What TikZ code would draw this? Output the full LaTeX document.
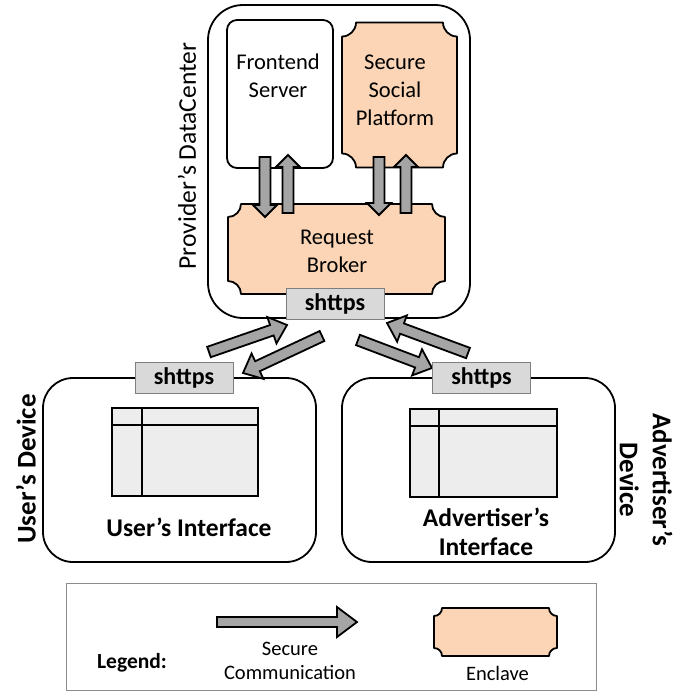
\documentclass[tikz,border=0pt]{standalone}
\usepackage{fontspec}
\setmainfont{Carlito}
\usetikzlibrary{calc}
\definecolor{peach}{HTML}{FBD5B5}
\definecolor{arrowgray}{HTML}{A5A5A5}
\definecolor{labelgray}{HTML}{D9D9D9}
\definecolor{tagline}{HTML}{7F7F7F}
\definecolor{wingray}{HTML}{EDEDED}
\definecolor{legendline}{HTML}{8C8C8C}
% enclave outline around a named (invisible) node: #1 node, #2 corner radius
\newcommand{\enclaveshape}[2]{%
  \path[encl] ($(#1.north west)+(#2,0)$) -- ($(#1.north east)+(-#2,0)$)
    .. controls +(0,0.55*#2) and +(-0.55*#2,0) .. ($(#1.north east)+(0,#2)$)
    -- ($(#1.south east)+(0,-#2)$)
    .. controls +(-0.55*#2,0) and +(0,-0.55*#2) .. ($(#1.south east)+(-#2,0)$)
    -- ($(#1.south west)+(#2,0)$)
    .. controls +(0,-0.55*#2) and +(0.55*#2,0) .. ($(#1.south west)+(0,-#2)$)
    -- ($(#1.north west)+(0,#2)$)
    .. controls +(0.55*#2,0) and +(0,0.55*#2) .. cycle;}
% block arrow: #1 name, #2 tail coord, #3 tip coord, #4 shaft half width, #5 head half width, #6 head length
\newcommand{\blockarrow}[6]{%
  \coordinate (#1hb) at ($(#3)!#6!(#2)$);
  \path[barrow] ($(#2)!#4!90:(#3)$) -- ($(#1hb)!#4!90:(#3)$) -- ($(#1hb)!#5!90:(#3)$)
    -- (#3) -- ($(#1hb)!#5!-90:(#3)$) -- ($(#1hb)!#4!-90:(#3)$) -- ($(#2)!#4!-90:(#3)$) -- cycle;}
\begin{document}
\begin{tikzpicture}[x=1pt,y=-1pt,
  every node/.style={inner sep=0pt, outer sep=0pt},
  roundbox/.style={draw, line width=1.8pt, fill=white, rounded corners=#1},
  ghost/.style={draw=none},
  encl/.style={draw, line width=1.8pt, fill=peach, line join=round},
  tag/.style={draw=tagline, line width=1pt, fill=labelgray, minimum width=98pt, minimum height=31pt, font=\fontsize{24}{28}\selectfont\bfseries},
  barrow/.style={draw, line width=1.8pt, fill=arrowgray, line join=miter},
  win/.style={draw, line width=2.4pt, fill=wingray},
  winline/.style={line width=2.4pt},
  maintext/.style={font=\fontsize{22.5}{28}\selectfont, align=center},
  boldtext/.style={font=\fontsize{25.5}{29}\selectfont\bfseries, align=center},
  sidetext/.style={font=\fontsize{27}{33}\selectfont\bfseries, align=center},
  legtext/.style={font=\fontsize{20.5}{24}\selectfont, align=center}
]
\useasboundingbox (0,0) rectangle (676,691);

% ---------- Provider's DataCenter ----------
\node[roundbox=35pt, minimum width=262pt, minimum height=313pt] (dc) at (339,161.5) {};
\node[font=\fontsize{25.5}{28}\selectfont, rotate=90] (dclabel) at (187,156) {Provider’s DataCenter};

\node[roundbox=10pt, minimum width=106pt, minimum height=148pt] (fe) at (280,94) {};
\node[maintext] (fetext) at (278,76) {Frontend\\Server};

\node[ghost, minimum width=115pt, minimum height=145pt] (ssp) at (399.5,95) {};
\enclaveshape{ssp}{14}
\node[maintext] (ssptext) at (395,90) {Secure\\Social\\Platform};

\node[ghost, minimum width=217pt, minimum height=90pt] (rb) at (336.5,249) {};
\enclaveshape{rb}{13}
\node[maintext] (rbtext) at (337,251) {Request\\Broker};

% vertical secure channels
\coordinate (fedownt) at (265,157); \coordinate (fedownh) at (265,217);
\coordinate (feupt) at (288,213);   \coordinate (feuph) at (288,155);
\coordinate (ssdownt) at (379,157); \coordinate (ssdownh) at (379,215);
\coordinate (ssupt) at (406,213);   \coordinate (ssuph) at (406,155);
\blockarrow{a1}{fedownt}{fedownh}{5.5pt}{12pt}{12pt}
\blockarrow{a2}{feupt}{feuph}{5.5pt}{12pt}{12pt}
\blockarrow{a3}{ssdownt}{ssdownh}{5.5pt}{12pt}{12pt}
\blockarrow{a4}{ssupt}{ssuph}{5.5pt}{12pt}{12pt}

% ---------- Devices ----------
\node[roundbox=30pt, minimum width=273pt, minimum height=184pt] (ud) at (179.5,470) {};
\node[sidetext, rotate=90] (udlabel) at (26,469) {User’s Device};
\node[win, minimum width=146pt, minimum height=88pt] (uwin) at (185,452) {};
\draw[winline] ($(uwin.north west)+(0,17)$) -- ($(uwin.north east)+(0,17)$);
\draw[winline] ($(uwin.north west)+(30,0)$) -- ($(uwin.south west)+(30,0)$);
\node[boldtext] (uitext) at (189,527) {User’s Interface};

\node[roundbox=30pt, minimum width=273pt, minimum height=184pt] (ad) at (478.5,470) {};
\node[sidetext, rotate=-90] (adlabel) at (646,480) {Advertiser’s\\Device};
\node[win, minimum width=147pt, minimum height=88pt] (awin) at (483.5,453) {};
\draw[winline] ($(awin.north west)+(0,17)$) -- ($(awin.north east)+(0,17)$);
\draw[winline] ($(awin.north west)+(29,0)$) -- ($(awin.south west)+(29,0)$);
\node[boldtext] (aitext) at (486,531.5) {Advertiser’s\\Interface};

% diagonal secure channels
\coordinate (ua) at (209,352); \coordinate (ub) at (287,325);
\coordinate (uc) at (322,336); \coordinate (ud2) at (243,373);
\coordinate (va) at (358,340); \coordinate (vb) at (432,368);
\coordinate (vc) at (468,353); \coordinate (vd) at (387,323);
\blockarrow{d1}{ua}{ub}{5.5pt}{14pt}{16pt}
\blockarrow{d2}{uc}{ud2}{5.5pt}{14pt}{16pt}
\blockarrow{d3}{va}{vb}{5.5pt}{14pt}{16pt}
\blockarrow{d4}{vc}{vd}{5.5pt}{14pt}{16pt}

% shttps tags
\node[tag] (tagdc) at (335,304) {shttps};
\node[tag] (tagu) at (184,377.5) {shttps};
\node[tag] (taga) at (481.5,377.5) {shttps};

% ---------- Legend ----------
\node[draw=legendline, line width=1pt, minimum width=530pt, minimum height=107pt] (legend) at (331,636.5) {};
\node[font=\fontsize{21.5}{24}\selectfont\bfseries] (legtitle) at (132,663) {Legend:};
\coordinate (lgt) at (217,622); \coordinate (lgh) at (357,622);
\blockarrow{lg}{lgt}{lgh}{5pt}{15pt}{20pt}
\node[legtext] (legcomm) at (290,661) {Secure\\Communication};
\node[ghost, minimum width=123pt, minimum height=48pt] (legencl) at (495.5,632) {};
\enclaveshape{legencl}{8}
\node[legtext] (legenctext) at (497.5,673) {Enclave};
\end{tikzpicture}
\end{document}
